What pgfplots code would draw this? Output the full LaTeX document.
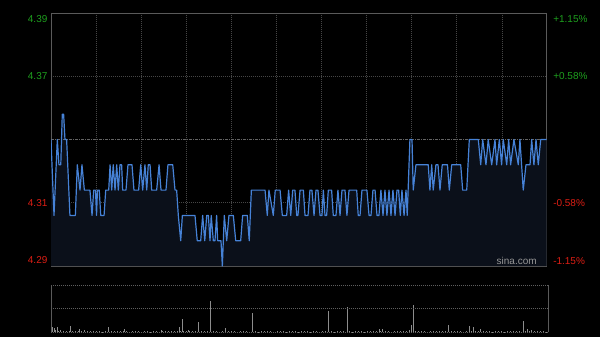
\documentclass[border=0pt]{standalone}
\usepackage{pgfplots}
\pgfplotsset{compat=1.18}
\usepackage{pgfplotstable}
\usepackage{fontspec}
\setmainfont{Liberation Sans}
\definecolor{upc}{RGB}{30,160,30}
\definecolor{dnc}{RGB}{220,30,20}
\definecolor{linec}{RGB}{70,130,215}
\definecolor{fillc}{RGB}{11,16,26}
\definecolor{framec}{RGB}{90,90,90}
\definecolor{gridc}{RGB}{70,70,70}
\definecolor{refc}{RGB}{100,100,100}
\definecolor{vgridc}{RGB}{95,95,95}
\definecolor{volc}{RGB}{140,140,140}
\definecolor{wmc}{RGB}{150,150,150}

\pgfplotstableread{
t p
0 4.34
2.0 4.31
4.2 4.34
5.3 4.33
6.5 4.33
7.5 4.35
8.4 4.35
9.3 4.34
10.4 4.34
12.6 4.31
16.2 4.31
17.5 4.33
19.3 4.32
20.6 4.33
22.2 4.32
25.9 4.32
27.3 4.31
28.4 4.32
29.6 4.32
30.3 4.31
30.9 4.32
32.1 4.32
33.1 4.31
35.3 4.31
36.4 4.32
38.4 4.32
39.3 4.33
40.4 4.32
41.4 4.33
42.6 4.32
43.7 4.33
44.8 4.32
45.9 4.33
47.0 4.33
47.7 4.32
49.9 4.32
51.2 4.33
53.9 4.33
55.2 4.32
58.3 4.32
59.7 4.33
61.0 4.32
62.5 4.33
63.7 4.32
64.7 4.33
65.9 4.33
67.0 4.32
70.3 4.32
71.9 4.33
73.2 4.32
76.5 4.32
77.8 4.33
81.0 4.33
82.5 4.32
83.6 4.32
84.7 4.31
86.3 4.30
87.4 4.31
95.8 4.31
97.3 4.30
99.6 4.30
100.9 4.31
102.3 4.30
103.6 4.31
104.7 4.31
105.8 4.30
106.6 4.31
108.0 4.30
109.1 4.30
110.2 4.31
110.9 4.30
113.1 4.30
114.0 4.29
115.3 4.31
116.9 4.30
118.4 4.31
121.3 4.31
122.9 4.30
126.2 4.30
127.5 4.31
130.6 4.31
131.9 4.30
133.3 4.32
142.4 4.32
143.9 4.31
145.0 4.32
147.9 4.31
149.2 4.32
152.4 4.32
153.9 4.31
156.8 4.31
158.1 4.32
159.5 4.31
160.8 4.32
162.3 4.32
163.5 4.31
164.3 4.31
165.7 4.32
167.9 4.32
169.0 4.31
171.0 4.31
172.3 4.32
173.6 4.32
175.0 4.31
176.3 4.32
177.6 4.32
179.0 4.31
180.3 4.31
181.2 4.32
182.3 4.31
183.4 4.31
184.5 4.32
186.7 4.32
187.8 4.31
189.6 4.31
190.9 4.32
192.3 4.31
193.6 4.32
195.6 4.32
196.9 4.31
198.3 4.32
203.4 4.32
204.4 4.31
205.6 4.31
206.9 4.32
210.2 4.32
211.6 4.31
212.9 4.31
214.2 4.32
215.6 4.32
216.9 4.31
218.2 4.31
219.5 4.32
220.9 4.31
222.2 4.32
223.5 4.31
224.9 4.32
226.2 4.31
227.5 4.32
228.9 4.31
230.2 4.32
231.3 4.32
232.4 4.31
233.5 4.32
234.9 4.31
236.2 4.32
237.0 4.31
238.8 4.34
240.2 4.34
241.0 4.32
242.8 4.33
251.0 4.33
252.1 4.32
253.3 4.33
254.3 4.32
256.1 4.33
257.5 4.33
258.8 4.32
260.3 4.33
263.8 4.33
265.0 4.32
266.6 4.33
272.6 4.33
273.9 4.32
276.6 4.32
278.3 4.34
284.3 4.34
285.9 4.33
287.2 4.34
289.4 4.33
290.9 4.34
293.2 4.33
295.4 4.34
296.5 4.33
298.3 4.34
299.8 4.33
300.9 4.34
303.2 4.33
304.5 4.34
305.8 4.33
308.0 4.34
310.9 4.33
312.0 4.34
314.2 4.32
316.0 4.33
318.7 4.33
319.8 4.34
321.3 4.33
322.7 4.34
324.2 4.33
325.8 4.34
329.8 4.34
}\price

\pgfplotstableread{
t v
0 7
1 5.5
2 4
3 2
4 5
5 1.5
6 2
8 1.2
10 1.5
12 0.8
13 6
14 1.5
16 1.0
18 0.8
19 3.5
20 1.2
22 1.8
24 0.6
26 1.3
28 0.9
30 0.7
32 1.2
34 0.5
36 0.9
38 5
40 1.1
42 0.8
44 0.6
46 1.0
48 0.7
49 3
50 1.2
52 0.5
54 0.9
56 0.6
58 0.8
60 0.4
62 0.7
64 0.9
66 0.5
68 0.6
70 0.8
72 0.5
73 2.5
74 0.9
76 0.6
78 0.7
80 1.0
82 0.8
84 1.2
85 5
86 1.5
87 13
88 1.0
90 0.8
91 2
92 1.2
94 0.9
96 0.7
98 10
100 1.0
102 0.6
104 0.8
106 31
108 0.7
110 1.0
112 0.5
114 0.9
116 3.7
118 0.8
120 0.6
122 0.7
124 0.5
126 0.9
128 0.6
130 0.8
132 0.5
134 18.7
136 0.7
138 0.5
140 0.9
142 0.6
144 1.0
146 0.7
148 0.5
150 0.8
152 0.6
154 0.9
156 0.5
158 0.7
160 0.6
162 0.8
164 0.5
166 0.7
168 0.9
170 0.6
172 0.5
174 0.8
176 0.7
178 0.5
180 0.9
182 0.6
184.5 21.3
186 0.8
188 0.5
190 0.7
192 0.6
194 0.9
196.5 25.3
198 0.7
200 0.5
202 0.8
204 0.6
206 0.7
208 0.5
210 0.9
212 0.6
214 0.8
216 1.2
218 3
219 1.5
220 3.2
222 1.0
224 0.7
226 0.5
228 0.8
230 0.6
232 0.9
234 0.7
236 1.5
238 2.5
239.5 7
240.6 27.3
242 1.2
244 0.8
246 0.6
248 0.9
250 0.5
252 0.7
254 0.6
256 0.8
258 1.2
260 0.6
262 1.5
264 7
266 0.9
268 0.7
270 0.6
272 0.8
274 0.5
276 1.0
277.6 6.3
279 1.2
280.5 4.7
282 0.8
284 1.0
285.4 2.7
287 0.7
289 0.6
291 0.9
293 0.5
295 0.8
297 0.6
299 0.7
301 0.5
303 0.9
305 0.6
307 0.8
309 0.7
311 1.0
313.8 11.3
315 1.5
316 2.7
317.5 1.0
319 2
321 0.8
323 0.6
325 0.9
327 0.7
329 0.5
}\volume

\begin{document}
\begin{tikzpicture}
\fill[black] (0,0) rectangle (450pt,252.75pt);
\tikzset{lbl/.style={font=\fontsize{7.5}{9}\selectfont, inner sep=0pt}}
% price panel
\begin{axis}[
  at={(38.25pt,53.25pt)}, anchor=south west,
  scale only axis, width=372pt, height=189.75pt,
  xmin=0, xmax=330, ymin=4.29, ymax=4.39,
  xtick={30,60,...,300}, ytick={4.315,4.365},
  xticklabels={}, yticklabels={},
  major tick length=0pt, tick style={draw=none},
  grid=major,
  grid style={gridc, line width=0.6pt, dash pattern=on 0.75pt off 0.75pt},
  axis line style={framec, line width=0.75pt},
  extra description/.code={
    \node[lbl, anchor=east, text=upc] at ([xshift=-2.5pt,yshift=-4.5pt]rel axis cs:0,1) {4.39};
    \node[lbl, anchor=east, text=upc] at ([xshift=-2.5pt]rel axis cs:0,0.75) {4.37};
    \node[lbl, anchor=east, text=dnc] at ([xshift=-2.5pt]rel axis cs:0,0.25) {4.31};
    \node[lbl, anchor=east, text=dnc] at ([xshift=-2.5pt,yshift=4.1pt]rel axis cs:0,0) {4.29};
    \node[lbl, anchor=west, text=upc] at ([xshift=4.5pt,yshift=-4.5pt]rel axis cs:1,1) {+1.15\%};
    \node[lbl, anchor=west, text=upc] at ([xshift=4.5pt]rel axis cs:1,0.75) {+0.58\%};
    \node[lbl, anchor=west, text=dnc] at ([xshift=4.5pt]rel axis cs:1,0.25) {-0.58\%};
    \node[lbl, anchor=west, text=dnc] at ([xshift=4.5pt,yshift=3.8pt]rel axis cs:1,0) {-1.15\%};
    \node[lbl, anchor=base east, text=wmc] at ([xshift=-7.5pt,yshift=1.5pt]rel axis cs:1,0) {sina.com};
  },
]
\addplot[draw=none, fill=fillc] table[x=t,y=p]{\price} \closedcycle;
\addplot[refc, line width=0.6pt, dash pattern=on 2.25pt off 0.75pt on 0.75pt off 0.75pt] coordinates {(0,4.34) (330,4.34)};
\addplot[linec, line width=0.9pt, line join=round] table[x=t,y=p]{\price};
\end{axis}
% volume panel
\begin{axis}[
  at={(38.25pt,3.75pt)}, anchor=south west,
  scale only axis, width=372.75pt, height=35.25pt,
  xmin=0, xmax=330, ymin=0, ymax=47,
  ticks=none,
  axis line style={draw=none},
  extra description/.code={
    \draw[vgridc, line width=0.6pt, dash pattern=on 0.75pt off 0.75pt] (rel axis cs:0,1) -- (rel axis cs:1,1);
    \draw[vgridc, line width=0.6pt, dash pattern=on 0.75pt off 0.75pt] (rel axis cs:0,0.5) -- (rel axis cs:1,0.5);
    \draw[vgridc, line width=0.6pt, dash pattern=on 0.75pt off 0.75pt] (rel axis cs:0,0) -- (rel axis cs:1,0);
    \draw[framec, line width=0.75pt] (rel axis cs:0,0) -- (rel axis cs:0,1);
    \draw[framec, line width=0.75pt] (rel axis cs:1,0) -- (rel axis cs:1,1);
  },
]
\addplot[ycomb, volc, line width=0.6pt, mark=none] table[x=t,y=v]{\volume};
\end{axis}
\end{tikzpicture}
\end{document}
